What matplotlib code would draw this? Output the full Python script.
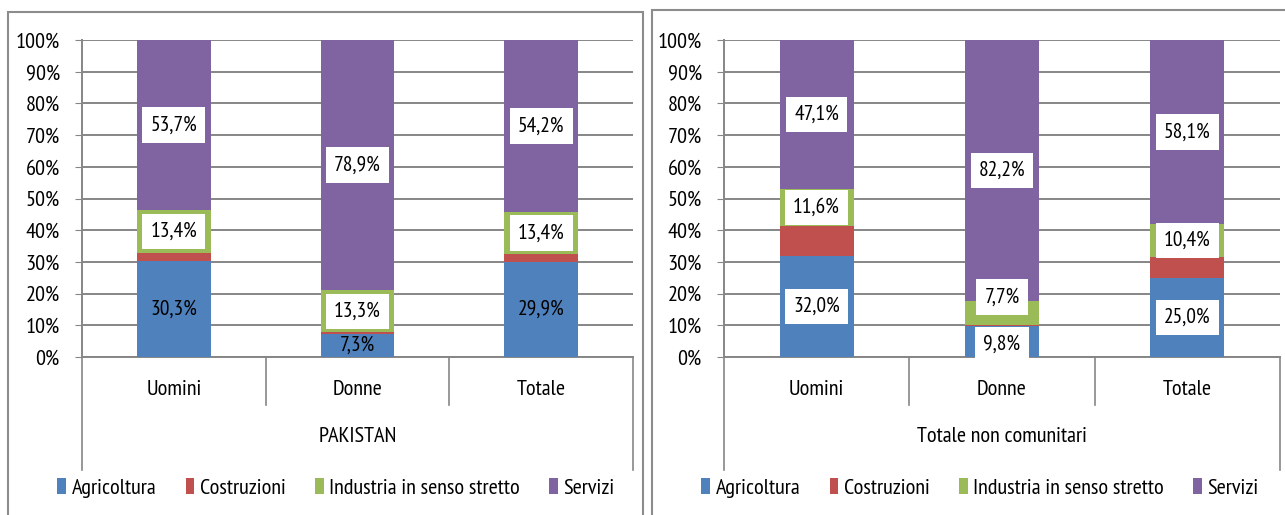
import matplotlib
matplotlib.use("Agg")
import matplotlib.pyplot as plt
import matplotlib.patches as mpatches
from matplotlib.lines import Line2D
from matplotlib.ticker import FixedLocator

# ── dati ──────────────────────────────────────────────────────────────────────
categorie = ["Uomini", "Donne", "Totale"]
gruppi = ["PAKISTAN", "Totale non comunitari"]
settori = ["Agricoltura", "Costruzioni", "Industria in senso stretto", "Servizi"]

pak_agricoltura = [30.3, 7.3, 29.9]
pak_costruzioni = [2.6, 0.5, 2.5]
pak_industria = [13.4, 13.3, 13.4]
pak_servizi = [53.7, 78.9, 54.2]

nc_agricoltura = [32.0, 9.8, 25.0]
nc_costruzioni = [9.3, 0.3, 6.5]
nc_industria = [11.6, 7.7, 10.4]
nc_servizi = [47.1, 82.2, 58.1]

COLORI = ["#4F81BD", "#C0504D", "#9BBB59", "#8064A2"]
GRIGIO = "#868686"
FONT = ["PT Sans Narrow", "DejaVu Sans"]
FS = 16
FS_ETI = 15.5

plt.rcParams["font.family"] = FONT
plt.rcParams["font.size"] = FS

W, H = 1285, 515


def box_px(x0, y0, x1, y1):
    return [x0 / W, 1 - y1 / H, (x1 - x0) / W, (y1 - y0) / H]


def fmt(v):
    return f"{v:.1f}%".replace(".", ",")


def pannello(fig, rect, serie, gruppo, box_agri, legend_x):
    ax = fig.add_axes(rect)
    x = list(range(len(categorie)))
    bottom = [0.0] * len(categorie)
    handles = []
    mids = []
    for vals, col, nome in zip(serie, COLORI, settori):
        b = ax.bar(x, vals, width=0.4, bottom=bottom, color=col, zorder=3,
                   label=nome)
        handles.append(b)
        mids.append([bo + v / 2 for bo, v in zip(bottom, vals)])
        bottom = [bo + v for bo, v in zip(bottom, vals)]

    # etichette: agricoltura, industria, servizi
    bb = dict(boxstyle="square,pad=0.38", fc="white", ec="none")
    for i in x:
        agri_y = mids[0][i]
        ind_y = mids[2][i]
        if ind_y - agri_y < 10:
            agri_y -= 1
            ind_y = agri_y + 15
        ax.text(i, agri_y, fmt(serie[0][i]), ha="center", va="center",
                fontsize=FS_ETI, zorder=5, bbox=bb if box_agri else None)
        ax.text(i, ind_y, fmt(serie[2][i]), ha="center", va="center",
                fontsize=FS_ETI, zorder=5, bbox=bb)
        ax.text(i, mids[3][i], fmt(serie[3][i]), ha="center", va="center",
                fontsize=FS_ETI, zorder=5, bbox=bb)

    ax.set_xlim(-0.5, len(categorie) - 0.5)
    ax.set_ylim(0, 100)
    ax.yaxis.set_major_locator(FixedLocator(range(0, 101, 10)))
    ax.set_yticklabels([f"{v}%" for v in range(0, 101, 10)])
    ax.tick_params(axis="y", length=5, color=GRIGIO, pad=11)
    ax.set_xticks([])
    ax.yaxis.grid(True, color=GRIGIO, lw=1.4, zorder=0)
    for s in ("top", "right"):
        ax.spines[s].set_visible(False)
    for s in ("left", "bottom"):
        ax.spines[s].set_color(GRIGIO)
        ax.spines[s].set_linewidth(1.4)

    # asse categorie a due livelli
    n = len(categorie)
    for k in range(1, n):
        ax.add_line(Line2D([k / n, k / n], [0, -0.151], transform=ax.transAxes,
                           color=GRIGIO, lw=1.2, clip_on=False))
    for k in (0, 1):
        ax.add_line(Line2D([k, k], [0, -0.356], transform=ax.transAxes,
                           color=GRIGIO, lw=1.2, clip_on=False))
    for i, c in enumerate(categorie):
        ax.text((i + 0.5) / n, -0.104, c, transform=ax.transAxes,
                ha="center", va="center")
    ax.text(0.5, -0.252, gruppo, transform=ax.transAxes,
            ha="center", va="center")

    fig.legend(handles=handles, labels=settori, loc="center",
               bbox_to_anchor=(legend_x / W, 1 - 488 / H), ncol=4,
               frameon=False, handlelength=0.4, handleheight=0.75,
               handletextpad=0.25, columnspacing=1.3)
    return ax


fig = plt.figure(figsize=(W / 100, H / 100), dpi=100)

# cornici dei due pannelli
for x0, y0, x1, y1 in [(8, 12, 643, 520), (652, 10, 1290, 520)]:
    fig.patches.append(mpatches.Rectangle(
        (x0 / W, 1 - y1 / H), (x1 - x0) / W, (y1 - y0) / H,
        transform=fig.transFigure, fill=False, ec="#8C8C8C", lw=1.5))

pannello(fig, box_px(82, 40, 633, 357),
         [pak_agricoltura, pak_costruzioni, pak_industria, pak_servizi],
         gruppi[0], False, 336)
pannello(fig, box_px(724, 40, 1280, 357),
         [nc_agricoltura, nc_costruzioni, nc_industria, nc_servizi],
         gruppi[1], True, 980)

fig.savefig("out.png", dpi=100, facecolor="white")
